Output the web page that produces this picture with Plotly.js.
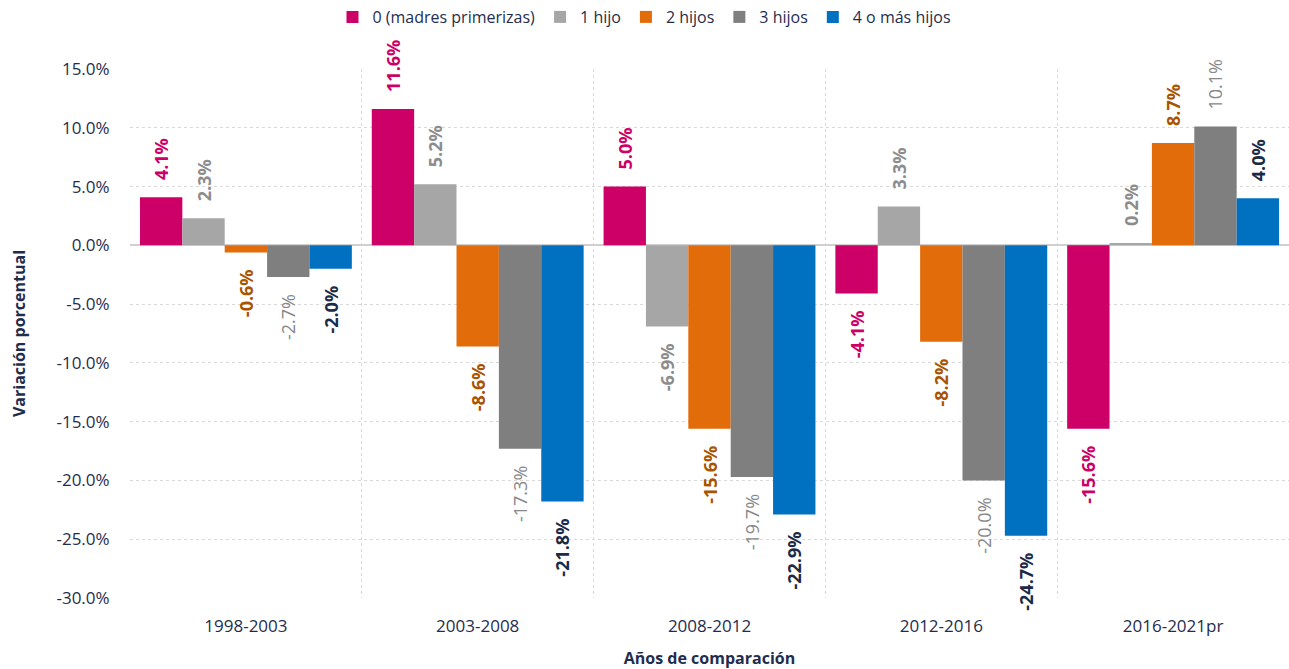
<!DOCTYPE html>
<html>
<head>
<meta charset="utf-8">
<script src="https://cdn.plot.ly/plotly-3.0.1.min.js"></script>
<style>html,body{margin:0;padding:0;background:#fff;}#chart{width:1289px;height:669px;}</style>
</head>
<body>
<div id="chart"></div>
<script>
const categories = ["1998-2003", "2003-2008", "2008-2012", "2012-2016", "2016-2021pr"];
const seriesNames = ["0 (madres primerizas)", "1 hijo", "2 hijos", "3 hijos", "4 o más hijos"];
const hijos0 = [4.1, 11.6, 5.0, -4.1, -15.6];
const hijos1 = [2.3, 5.2, -6.9, 3.3, 0.2];
const hijos2 = [-0.6, -8.6, -15.6, -8.2, 8.7];
const hijos3 = [-2.7, -17.3, -19.7, -20.0, 10.1];
const hijos4 = [-2.0, -21.8, -22.9, -24.7, 4.0];
const yTicks = [15, 10, 5, 0, -5, -10, -15, -20, -25, -30];

const values = [hijos0, hijos1, hijos2, hijos3, hijos4];
const barColors = ["#CC0066", "#A6A6A6", "#E36C0A", "#7F7F7F", "#0070C0"];
const labelColors = ["#CC0066", "#8C8C8C", "#A85400", "#888888", "#1B2A47"];
const labelWeights = ["bold", "bold", "bold", "normal", "bold"];
const FONT = "Open Sans, Noto Sans, sans-serif";
const NAVY = "#1F2D4D";
const pad = "\u00a0\u00a0\u00a0";

const traces = values.map((vals, i) => ({
  type: "bar",
  name: seriesNames[i],
  x: categories,
  y: vals,
  marker: {color: barColors[i]},
  text: vals.map(v => v >= 0 ? pad + v.toFixed(1) + "%" : v.toFixed(1) + "%" + pad),
  textposition: "outside",
  textangle: -90,
  cliponaxis: false,
  constraintext: "none",
  textfont: {family: FONT, size: 18, color: labelColors[i], weight: labelWeights[i]},
  hoverinfo: "x+y+name"
}));

const layout = {
  width: 1289,
  height: 669,
  margin: {l: 130, r: 0, t: 69, b: 71},
  paper_bgcolor: "#ffffff",
  plot_bgcolor: "#ffffff",
  font: {family: FONT, color: NAVY, size: 16},
  barmode: "group",
  bargap: 0.086,
  bargroupgap: 0,
  showlegend: true,
  legend: {
    orientation: "h", x: 0.5, xanchor: "center", xref: "container",
    y: 1, yref: "container", yanchor: "top",
    font: {family: FONT, size: 16, color: NAVY},
    traceorder: "normal", itemwidth: 30
  },
  xaxis: {
    type: "category",
    tickson: "boundaries",
    showgrid: true,
    gridcolor: "#D9D9D9",
    griddash: "3px,3px",
    gridwidth: 1,
    ticks: "",
    ticklabelstandoff: 16,
    showline: false,
    zeroline: false,
    tickfont: {family: FONT, size: 17, color: NAVY},
    title: {text: "Años de comparación", standoff: 19, font: {family: FONT, size: 16, color: NAVY, weight: "bold"}}
  },
  yaxis: {
    range: [-30, 15],
    tickvals: yTicks,
    ticktext: yTicks.map(v => v.toFixed(1) + "%"),
    showgrid: true,
    gridcolor: "#D9D9D9",
    griddash: "3px,3px",
    gridwidth: 1,
    zeroline: true,
    zerolinecolor: "#D0D0D0",
    zerolinewidth: 2,
    ticks: "outside",
    ticklen: 16,
    tickcolor: "rgba(0,0,0,0)",
    showline: false,
    tickfont: {family: FONT, size: 17, color: NAVY},
    title: {text: "Variación porcentual", standoff: 26, font: {family: FONT, size: 16, color: NAVY, weight: "bold"}}
  }
};

Plotly.newPlot("chart", traces, layout, {displayModeBar: false, responsive: false});
</script>
</body>
</html>
